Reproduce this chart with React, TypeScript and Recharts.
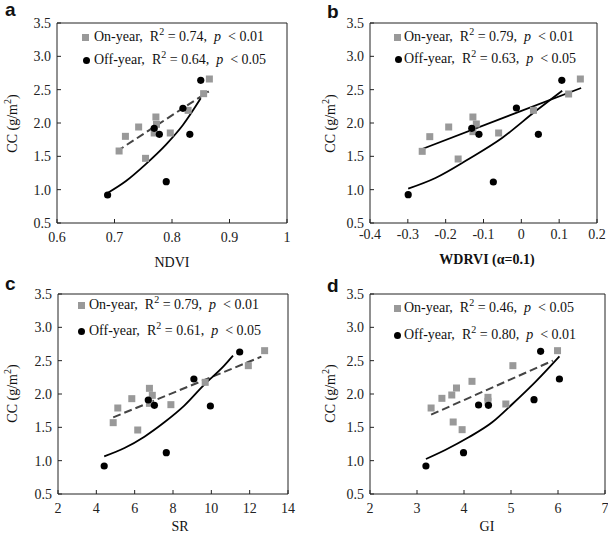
import React from "react"
import { ScatterChart, Scatter, XAxis, YAxis, ReferenceArea } from "recharts"

// panel a - NDVI
const onX_a = [0.708, 0.719, 0.742, 0.754, 0.772, 0.773, 0.769, 0.797, 0.828, 0.855, 0.865]
const onY_a = [1.58, 1.8, 1.94, 1.47, 2.09, 1.98, 1.85, 1.85, 2.19, 2.44, 2.66]
const offX_a = [0.688, 0.769, 0.778, 0.79, 0.819, 0.831, 0.85]
const offY_a = [0.92, 1.92, 1.83, 1.12, 2.22, 1.83, 2.64]
const onFitX_a = [0.704, 0.864]
const onFitY_a = [1.575, 2.475]
const offFitX_a = [0.688, 0.72, 0.754, 0.79, 0.819, 0.85]
const offFitY_a = [0.95, 1.13, 1.38, 1.68, 1.97, 2.37]

// panel b - WDRVI
const onX_b = [-0.262, -0.242, -0.192, -0.167, -0.128, -0.119, -0.128, -0.06, 0.032, 0.125, 0.156]
const onY_b = [1.575, 1.795, 1.94, 1.46, 2.09, 1.985, 1.87, 1.85, 2.19, 2.435, 2.66]
const offX_b = [-0.299, -0.131, -0.112, -0.074, -0.013, 0.045, 0.107]
const offY_b = [0.925, 1.92, 1.83, 1.115, 2.225, 1.83, 2.64]
const onFitX_b = [-0.262, 0.158]
const onFitY_b = [1.61, 2.525]
const offFitX_b = [-0.299, -0.227, -0.139, -0.051, 0.037, 0.108]
const offFitY_b = [1.015, 1.175, 1.46, 1.775, 2.175, 2.485]

// panel c - SR
const onX_c = [4.88, 5.12, 5.85, 6.16, 6.77, 6.92, 6.77, 7.89, 9.68, 11.93, 12.78]
const onY_c = [1.57, 1.79, 1.93, 1.46, 2.085, 1.98, 1.86, 1.84, 2.175, 2.425, 2.65]
const offX_c = [4.41, 6.71, 7.03, 7.65, 9.09, 9.95, 11.48]
const offY_c = [0.92, 1.91, 1.83, 1.12, 2.225, 1.82, 2.63]
const onFitX_c = [4.88, 12.61]
const onFitY_c = [1.65, 2.56]
const offFitX_c = [4.41, 5.47, 6.51, 7.55, 8.59, 9.63, 10.67, 11.13]
const offFitY_c = [1.065, 1.19, 1.36, 1.575, 1.825, 2.14, 2.425, 2.575]

// panel d - GI
const onX_d = [3.3, 3.53, 3.74, 3.84, 4.17, 3.77, 3.96, 4.51, 4.51, 4.89, 5.04, 5.99]
const onY_d = [1.79, 1.935, 1.985, 2.09, 2.19, 1.58, 1.465, 1.95, 1.89, 1.85, 2.425, 2.65]
const offX_d = [3.19, 3.99, 4.31, 4.52, 5.49, 5.63, 6.03]
const offY_d = [0.92, 1.12, 1.835, 1.83, 1.915, 2.64, 2.225]
const onFitX_d = [3.3, 5.89]
const onFitY_d = [1.69, 2.5]
const offFitX_d = [3.19, 3.6, 4.1, 4.6, 5.03, 5.53, 6.03]
const offFitY_d = [1.025, 1.16, 1.35, 1.575, 1.85, 2.19, 2.565]

const yTicks = [0.5, 1.0, 1.5, 2.0, 2.5, 3.0, 3.5]
const xTicks_a = [0.6, 0.7, 0.8, 0.9, 1]
const xTicks_b = [-0.4, -0.3, -0.2, -0.1, 0, 0.1, 0.2]
const xTicks_c = [2, 4, 6, 8, 10, 12, 14]
const xTicks_d = [2, 3, 4, 5, 6, 7]

const zip = (xs: number[], ys: number[]) => xs.map((x, i) => ({ x, y: ys[i] }))

const SERIF = "'Liberation Serif', 'Times New Roman', serif"

const XTick = (props: any) => {
  const { x, y, payload, dy } = props
  return (
    <g>
      <line x1={x} x2={x} y1={y} y2={y - 4} stroke="#222" />
      <text x={x} y={y + dy} textAnchor="middle" fontSize={14} fontFamily={SERIF} fill="#222">
        {String(payload.value)}
      </text>
    </g>
  )
}

const YTick = (props: any) => {
  const { x, y, payload } = props
  return (
    <g>
      <line x1={x} x2={x + 4} y1={y} y2={y} stroke="#222" />
      <text x={x - 6} y={y + 5} textAnchor="end" fontSize={14} fontFamily={SERIF} fill="#222">
        {payload.value.toFixed(1)}
      </text>
    </g>
  )
}

const squareShape = (p: any) => <rect x={p.cx - 3.5} y={p.cy - 3.5} width={7} height={7} fill="#999" />
const circleShape = (p: any) => <circle cx={p.cx} cy={p.cy} r={3.6} fill="#000" />
const noShape = () => <g />

type PanelProps = {
  left: number
  top: number
  width: number
  height: number
  yAxisW: number
  marginTop: number
  marginRight: number
  tickDy: number
  xDomain: [number, number]
  xTicks: number[]
  on: { x: number; y: number }[]
  off: { x: number; y: number }[]
  onFit: { x: number; y: number }[]
  offFit: { x: number; y: number }[]
  onDashed: boolean
}

function Panel(p: PanelProps) {
  return (
    <div style={{ position: "absolute", left: p.left, top: p.top }}>
      <ScatterChart
        width={p.width}
        height={p.height}
        margin={{ top: p.marginTop, right: p.marginRight, left: 0, bottom: 0 }}
      >
        <XAxis
          type="number"
          dataKey="x"
          domain={p.xDomain}
          ticks={p.xTicks}
          allowDataOverflow
          height={47}
          tickSize={0}
          tickMargin={0}
          tickLine={false}
          axisLine={false}
          tick={<XTick dy={p.tickDy} />}
          interval={0}
        />
        <YAxis
          type="number"
          dataKey="y"
          domain={[0.5, 3.5]}
          ticks={yTicks}
          allowDataOverflow
          width={p.yAxisW}
          tickSize={0}
          tickMargin={0}
          tickLine={false}
          axisLine={false}
          tick={<YTick />}
          interval={0}
        />
        <ReferenceArea
          x1={p.xDomain[0]}
          x2={p.xDomain[1]}
          y1={0.5}
          y2={3.5}
          fill="none"
          fillOpacity={0}
          stroke="#222"
          strokeWidth={1}
          ifOverflow="visible"
        />
        <Scatter
          data={p.onFit}
          line={{
            stroke: p.onDashed ? "#444" : "#000",
            strokeWidth: p.onDashed ? 2 : 1.8,
            strokeDasharray: p.onDashed ? "8 4" : undefined,
          }}
          shape={noShape}
          isAnimationActive={false}
        />
        <Scatter
          data={p.offFit}
          line={{ stroke: "#000", strokeWidth: 1.8 }}
          lineJointType="monotoneX"
          shape={noShape}
          isAnimationActive={false}
        />
        <Scatter data={p.on} shape={squareShape} isAnimationActive={false} />
        <Scatter data={p.off} shape={circleShape} isAnimationActive={false} />
      </ScatterChart>
    </div>
  )
}

const Sup = ({ children }: { children: React.ReactNode }) => (
  <span style={{ fontSize: 10, position: "relative", top: -6 }}>{children}</span>
)

function LegendRow(props: {
  mx: number
  my: number
  tx: number
  circle: boolean
  label: string
  r2: string
  p: string
}) {
  const { mx, my, tx, circle, label, r2, p } = props
  return (
    <>
      <div
        style={{
          position: "absolute",
          left: mx - 3.5,
          top: my - 3.5,
          width: 7,
          height: 7,
          background: circle ? "#000" : "#999",
          borderRadius: circle ? "50%" : 0,
        }}
      />
      <div
        style={{
          position: "absolute",
          left: tx,
          top: my - 9,
          fontSize: 14,
          lineHeight: "18px",
          whiteSpace: "pre",
          color: "#111",
        }}
      >
        {label}{"  "}R<Sup>2</Sup> = {r2},{"  "}<i>p</i>{"  "}&lt; {p}
      </div>
    </>
  )
}

const txt = (left: number, top: number, s: string, extra: React.CSSProperties = {}) => (
  <div style={{ position: "absolute", left, top, fontSize: 14, lineHeight: "18px", whiteSpace: "pre", ...extra }}>
    {s}
  </div>
)

const YLabel = ({ cx, cy }: { cx: number; cy: number }) => (
  <div
    style={{
      position: "absolute",
      left: cx - 50,
      top: cy - 9,
      width: 100,
      textAlign: "center",
      fontSize: 14,
      lineHeight: "18px",
      transform: "rotate(-90deg)",
      whiteSpace: "pre",
    }}
  >
    CC (g/m<Sup>2</Sup>)
  </div>
)

const XLabel = ({ cx, cy, text, bold }: { cx: number; cy: number; text: string; bold?: boolean }) => (
  <div
    style={{
      position: "absolute",
      left: cx - 100,
      top: cy - 9,
      width: 200,
      textAlign: "center",
      fontSize: 14,
      lineHeight: "18px",
      fontWeight: bold ? "bold" : "normal",
    }}
  >
    {text}
  </div>
)

const letterStyle: React.CSSProperties = {
  fontFamily: "'Liberation Sans', Arial, sans-serif",
  fontWeight: "bold",
  fontSize: 19,
  lineHeight: "20px",
}

export default function App() {
  return (
    <div
      style={{
        position: "absolute",
        left: 0,
        top: 0,
        width: 608,
        height: 541,
        background: "#fff",
        fontFamily: SERIF,
        color: "#111",
      }}
    >
      <Panel
        left={0} top={0} width={300} height={270} yAxisW={57} marginTop={23} marginRight={13} tickDy={19}
        xDomain={[0.6, 1]} xTicks={xTicks_a}
        on={zip(onX_a, onY_a)} off={zip(offX_a, offY_a)}
        onFit={zip(onFitX_a, onFitY_a)} offFit={zip(offFitX_a, offFitY_a)} onDashed
      />
      <Panel
        left={300} top={0} width={308} height={270} yAxisW={70} marginTop={23} marginRight={11} tickDy={16}
        xDomain={[-0.4, 0.2]} xTicks={xTicks_b}
        on={zip(onX_b, onY_b)} off={zip(offX_b, offY_b)}
        onFit={zip(onFitX_b, onFitY_b)} offFit={zip(offFitX_b, offFitY_b)} onDashed={false}
      />
      <Panel
        left={0} top={270} width={300} height={271} yAxisW={58} marginTop={24} marginRight={12} tickDy={19}
        xDomain={[2, 14]} xTicks={xTicks_c}
        on={zip(onX_c, onY_c)} off={zip(offX_c, offY_c)}
        onFit={zip(onFitX_c, onFitY_c)} offFit={zip(offFitX_c, offFitY_c)} onDashed
      />
      <Panel
        left={300} top={270} width={308} height={271} yAxisW={70} marginTop={24} marginRight={3} tickDy={19}
        xDomain={[2, 7]} xTicks={xTicks_d}
        on={zip(onX_d, onY_d)} off={zip(offX_d, offY_d)}
        onFit={zip(onFitX_d, onFitY_d)} offFit={zip(offFitX_d, offFitY_d)} onDashed
      />

      {txt(5, 0, "a", letterStyle)}
      {txt(327, 2, "b", letterStyle)}
      {txt(5, 274, "c", letterStyle)}
      {txt(327, 276, "d", letterStyle)}

      <LegendRow mx={85} my={37} tx={94} circle={false} label="On-year," r2="0.74" p="0.01" />
      <LegendRow mx={86} my={60} tx={94} circle label="Off-year," r2="0.64" p="0.05" />
      <LegendRow mx={397} my={37} tx={404} circle={false} label="On-year," r2="0.79" p="0.01" />
      <LegendRow mx={398} my={59} tx={404} circle label="Off-year," r2="0.63" p="0.05" />
      <LegendRow mx={81} my={305} tx={89} circle={false} label="On-year," r2="0.79" p="0.01" />
      <LegendRow mx={81} my={331} tx={89} circle label="Off-year," r2="0.61" p="0.05" />
      <LegendRow mx={397} my={308} tx={404} circle={false} label="On-year," r2="0.46" p="0.05" />
      <LegendRow mx={397} my={335} tx={404} circle label="Off-year," r2="0.80" p="0.01" />

      <YLabel cx={13} cy={123} />
      <YLabel cx={331} cy={123} />
      <YLabel cx={13} cy={393} />
      <YLabel cx={331} cy={393} />

      <XLabel cx={172} cy={263} text="NDVI" />
      <XLabel cx={487} cy={260} text="WDRVI (α=0.1)" bold />
      <XLabel cx={180} cy={527} text="SR" />
      <XLabel cx={487} cy={527} text="GI" />
    </div>
  )
}
